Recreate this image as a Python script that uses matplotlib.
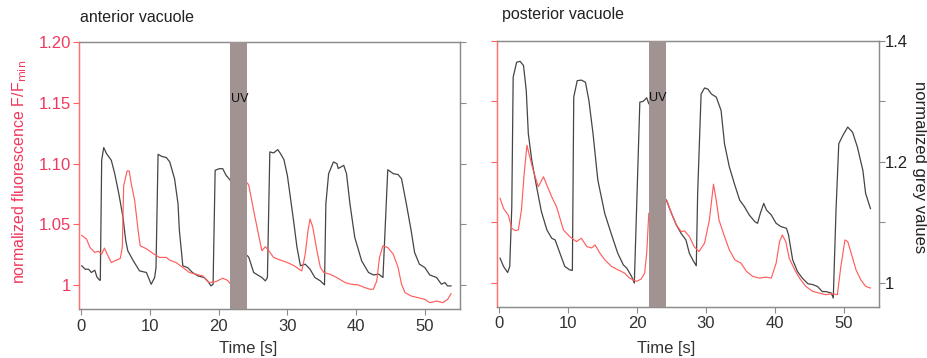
import numpy as np
import matplotlib
matplotlib.use('Agg')
import matplotlib.pyplot as plt

plt.rcParams['font.family'] = ['Liberation Sans', 'DejaVu Sans']

# anterior vacuole
ant_red_t = [0.1, 0.8, 1.3, 2.0, 2.5, 3.0, 3.4, 3.8, 4.4, 5.15, 5.7, 6.0, 6.2, 6.7, 7.0, 7.3, 7.8, 8.3, 8.6,
             9.5, 10.5, 11.4, 12.4, 12.9, 13.8, 14.8, 15.75, 16.7, 17.7, 18.6, 19.6, 20.6, 21.3, 21.8]
ant_red_v = [1.041, 1.038, 1.031, 1.027, 1.028, 1.0256, 1.0306, 1.0256, 1.0187, 1.0207, 1.022, 1.031, 1.082, 1.094,
             1.094, 1.0835, 1.0697, 1.045, 1.0325, 1.03, 1.026, 1.0229, 1.0229, 1.0207, 1.0187, 1.0146, 1.0105,
             1.0091, 1.0077, 1.0022, 1.003, 1.0058, 1.004, 1.0008]
ant_red_t2 = [24.2, 24.4, 25.1, 25.9, 26.3, 26.8, 27.3, 28.0, 29.0, 30.0, 31.0, 31.7, 32.1, 32.6, 33.0, 33.3, 33.7,
              34.3, 34.8, 35.3, 36.2, 37.2, 38.4, 39.3, 40.3, 41.3, 42.0, 42.5, 43.0, 43.4, 43.9, 44.6, 45.4, 46.1,
              46.6, 47.1, 48.0, 49.0, 50.0, 50.7, 51.7, 52.6, 53.3, 53.8]
ant_red_v2 = [1.084, 1.082, 1.0614, 1.039, 1.0284, 1.0317, 1.0284, 1.0229, 1.0207, 1.0187, 1.016, 1.0132, 1.0118,
              1.0256, 1.0449, 1.0545, 1.0477, 1.0284, 1.0146, 1.0105, 1.0091, 1.0063, 1.0022, 1.0008, 1.0003, 0.998,
              0.9967, 0.9967, 1.0036, 1.0229, 1.0325, 1.031, 1.0256, 1.0146, 1.0008, 0.994, 0.9912, 0.9898, 0.9884,
              0.9857, 0.9870, 0.9857, 0.9884, 0.993]
ant_grey_t = [0.1, 0.6, 1.1, 1.5, 2.0, 2.3, 2.7, 2.8, 3.0, 3.3, 3.7, 4.4, 4.9, 5.5, 6.1, 6.5, 6.8, 7.6, 8.5, 9.5,
              10.2, 10.7, 10.9, 11.2, 11.7, 12.4, 12.9, 13.6, 14.1, 14.3, 14.8, 15.5, 16.2, 17.0, 17.9, 18.4, 18.9,
              19.2, 19.5, 20.1, 20.6, 21.1, 21.8]
ant_grey_v = [1.032, 1.0264, 1.0264, 1.021, 1.0248, 1.0138, 1.0083, 1.0083, 1.2055, 1.2264, 1.2165, 1.2055, 1.1835,
              1.150, 1.1118, 1.0733, 1.0567, 1.0402, 1.0237, 1.021, 1.0017, 1.0127, 1.029, 1.2154, 1.212, 1.210,
              1.2028, 1.175, 1.134, 1.0898, 1.032, 1.029, 1.021, 1.0154, 1.0127, 1.0072, 0.9989, 1.0017, 1.189,
              1.1917, 1.1917, 1.1807, 1.1713]
ant_grey_t2 = [24.2, 24.4, 25.1, 25.9, 26.3, 26.8, 27.1, 27.45, 28.0, 28.6, 29.0, 29.5, 30.0, 30.4, 30.9, 31.4,
               31.9, 32.6, 33.3, 34.0, 34.8, 35.4, 35.6, 36.0, 36.7, 37.2, 37.4, 38.2, 38.6, 39.1, 39.8, 40.8, 41.8,
               42.5, 43.3, 43.9, 44.6, 45.4, 46.1, 46.6, 47.3, 48.0, 48.5, 49.2, 50.0, 50.7, 51.7, 52.4, 52.9, 53.3,
               53.8]
ant_grey_v2 = [1.0485, 1.0457, 1.021, 1.0154, 1.0127, 1.0072, 1.0127, 1.2193, 1.2176, 1.2231, 1.2165, 1.2066,
               1.1807, 1.1477, 1.1063, 1.0623, 1.032, 1.0347, 1.0264, 1.0127, 1.0072, 1.0006, 1.134, 1.1835, 1.2028,
               1.2, 1.192, 1.1972, 1.1835, 1.134, 1.0788, 1.0402, 1.021, 1.0171, 1.0182, 1.0127, 1.19, 1.1835, 1.182,
               1.1752, 1.134, 1.0898, 1.054, 1.0347, 1.029, 1.017, 1.0127, 1.0017, 1.0045, 0.9989, 0.9989]

# posterior vacuole
post_red_t = [0.1, 0.6, 1.3, 1.8, 2.3, 2.75, 3.2, 3.6, 4.0, 4.35, 4.9, 5.65, 6.4, 6.9, 7.6, 8.3, 9.3, 10.2, 11.2,
              11.9, 12.7, 13.4, 13.9, 14.6, 15.3, 16.3, 17.2, 18.2, 18.9, 19.9, 20.6, 21.1, 21.4, 21.7]
post_red_v = [1.0699, 1.0616, 1.056, 1.0452, 1.0433, 1.0438, 1.0603, 1.0904, 1.1137, 1.1055, 1.0932, 1.0795,
              1.0877, 1.0808, 1.0712, 1.063, 1.0438, 1.0384, 1.0342, 1.037, 1.0301, 1.029, 1.0315, 1.0247, 1.0192,
              1.0137, 1.011, 1.0082, 1.0041, 1.0014, 1.0033, 1.0082, 1.0247, 1.0575]
post_red_t2 = [24.3, 25.0, 25.7, 26.4, 26.9, 27.6, 28.3, 29.0, 29.8, 30.5, 31.1, 31.5, 31.9, 32.7, 33.4, 34.2, 35.1,
               35.9, 36.8, 37.8, 38.7, 39.5, 40.2, 40.7, 41.1, 41.6, 42.1, 42.9, 43.6, 44.5, 45.5, 46.4, 47.4, 48.3,
               49.1, 49.6, 50.2, 50.6, 51.1, 51.8, 52.5, 53.2, 53.9]
post_red_v2 = [1.0685, 1.0575, 1.048, 1.0425, 1.043, 1.0384, 1.030, 1.026, 1.0329, 1.052, 1.0816, 1.0685, 1.052,
               1.0384, 1.0274, 1.0192, 1.0164, 1.0096, 1.0055, 1.0041, 1.0049, 1.0041, 1.0164, 1.0342, 1.0397,
               1.0342, 1.0205, 1.011, 1.0041, 0.9973, 0.9932, 0.9918, 0.9904, 0.9912, 0.9904, 1.0137, 1.0356,
               1.0342, 1.0247, 1.011, 1.0027, 0.9973, 0.9959]
post_grey_t = [0.1, 0.6, 1.2, 1.5, 1.8, 2.0, 2.5, 3.0, 3.5, 3.9, 4.2, 4.7, 5.4, 6.1, 6.9, 7.6, 8.1, 8.8, 9.5, 10.2,
               10.6, 10.8, 11.3, 11.9, 12.5, 13.0, 13.6, 14.3, 15.3, 16.3, 17.2, 18.0, 18.5, 19.2, 19.6, 20.4, 20.9,
               21.4, 21.7]
post_grey_v = [1.041, 1.0274, 1.0175, 1.0274, 1.126, 1.3397, 1.3644, 1.366, 1.359, 1.318, 1.2466, 1.2027, 1.159,
               1.118, 1.0877, 1.074, 1.0712, 1.049, 1.0274, 1.0219, 1.0208, 1.3068, 1.334, 1.335, 1.3315, 1.3014,
               1.2466, 1.1699, 1.115, 1.0795, 1.049, 1.030, 1.0247, 1.011, 1.0, 1.2986, 1.300, 1.3058, 1.296]
post_grey_t2 = [24.25, 25.0, 25.7, 26.4, 27.1, 27.6, 28.1, 28.6, 28.8, 29.3, 29.8, 30.3, 30.8, 31.5, 32.2, 32.7,
                33.4, 34.2, 34.9, 35.6, 36.3, 37.1, 37.5, 37.9, 38.4, 38.8, 39.5, 40.2, 40.9, 41.7, 42.0, 42.6, 43.3,
                44.0, 44.8, 45.5, 46.2, 46.9, 47.4, 48.2, 48.5, 48.9, 49.3, 49.9, 50.6, 51.3, 52.0, 52.8, 53.2, 53.9]
post_grey_v2 = [1.137, 1.115, 1.096, 1.082, 1.071, 1.049, 1.038, 1.0285, 1.148, 1.312, 1.322, 1.320, 1.312, 1.307,
                1.285, 1.230, 1.1918, 1.1616, 1.137, 1.126, 1.1123, 1.1014, 1.0986, 1.115, 1.1315, 1.1205, 1.1123,
                1.0986, 1.0932, 1.0904, 1.0795, 1.0384, 1.019, 1.0082, 0.999, 0.9975, 0.9945, 0.986, 0.986, 0.9836,
                0.9753, 1.1205, 1.230, 1.2438, 1.2575, 1.249, 1.2247, 1.186, 1.148, 1.123]

uv_start, uv_end = 21.7, 24.2
red_ticks = [1.0, 1.05, 1.10, 1.15, 1.20]
red_ticklabels = ['1', '1.05', '1.10', '1.15', '1.20']
grey_ticks = [1.0, 1.1, 1.2, 1.3, 1.4]
grey_ticklabels = ['1', '', '1.2', '', '1.4']
x_ticks = [0, 10, 20, 30, 40, 50]

RED = '#ff5e5e'
RED_TXT = '#f0385e'
GREY_LINE = '#454545'
SPINE = '#8c8c8c'
UV_COL = '#a09391'

fig = plt.figure(figsize=(9.27, 3.58), dpi=100)
axL = fig.add_axes([0.0852, 0.1369, 0.4110, 0.7458])
axR = fig.add_axes([0.5365, 0.1433, 0.4114, 0.7430])


def setup(ax, red_t, red_v, red_t2, red_v2, grey_t, grey_v, grey_t2, grey_v2, left_labels, right_labels):
    ax2 = ax.twinx()
    ax.axvspan(uv_start, uv_end, color=UV_COL, lw=0, zorder=5)
    ax.plot(red_t, red_v, color=RED, lw=0.85, zorder=3)
    ax.plot(red_t2, red_v2, color=RED, lw=0.85, zorder=3)
    ax2.plot(grey_t, grey_v, color=GREY_LINE, lw=0.9)
    ax2.plot(grey_t2, grey_v2, color=GREY_LINE, lw=0.9)
    ax.set_zorder(ax2.get_zorder() + 1)
    ax.patch.set_visible(False)
    ax.set_xlim(-0.3, 55.1)
    ax.set_ylim(0.9805, 1.20)
    ax2.set_ylim(0.961, 1.40)
    ax.set_xticks(x_ticks)
    ax.set_yticks(red_ticks)
    ax2.set_yticks(grey_ticks)
    if left_labels:
        ax.set_yticklabels(red_ticklabels)
    else:
        ax.set_yticklabels([])
    if right_labels:
        ax2.set_yticklabels(grey_ticklabels)
    else:
        ax2.set_yticklabels([])
    ax.tick_params(axis='x', colors=SPINE, labelcolor='#333333', labelsize=12, length=4, width=0.8, pad=3)
    ax.tick_params(axis='y', colors=RED, labelcolor=RED_TXT, labelsize=12, length=4, width=0.8, pad=2)
    ax2.tick_params(axis='y', colors=SPINE, labelcolor='#222222', labelsize=12, length=4, width=0.8, pad=0)
    for a in (ax, ax2):
        for s in a.spines.values():
            s.set_color(SPINE)
            s.set_linewidth(0.9)
        a.spines['left'].set_color('#ff7070')
    ax.text(uv_start + 0.05, 1.153, 'UV', fontsize=9, color='#111111', ha='left', va='center', zorder=6)
    return ax2


setup(axL, ant_red_t, ant_red_v, ant_red_t2, ant_red_v2, ant_grey_t, ant_grey_v, ant_grey_t2, ant_grey_v2, True, False)
setup(axR, post_red_t, post_red_v, post_red_t2, post_red_v2, post_grey_t, post_grey_v, post_grey_t2, post_grey_v2, False, True)

fig.text(80 / 927, 1 - 17 / 358, 'anterior vacuole', fontsize=11.5, color='#222222', ha='left', va='center')
fig.text(502 / 927, 1 - 14 / 358, 'posterior vacuole', fontsize=11.5, color='#222222', ha='left', va='center')
fig.text(248 / 927, 1 - 348 / 358, 'Time [s]', fontsize=12, color='#333333', ha='center', va='center')
fig.text(666 / 927, 1 - 348 / 358, 'Time [s]', fontsize=12, color='#333333', ha='center', va='center')
fig.text(20 / 927, 1 - 172 / 358, 'normalized fluorescence F/F$_{\\mathrm{min}}$', fontsize=11.5, color=RED_TXT,
         rotation=90, ha='center', va='center')
fig.text(920 / 927, 1 - 167 / 358, 'normalized grey values', fontsize=12, color='#222222',
         rotation=270, ha='center', va='center')

fig.savefig('out.png', dpi=100)
